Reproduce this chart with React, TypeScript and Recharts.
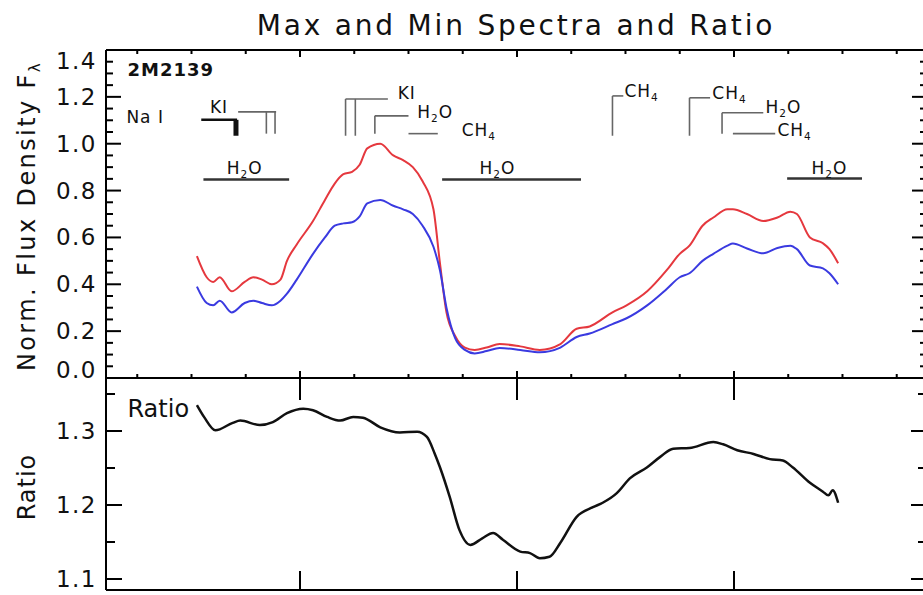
import { LineChart, Line, XAxis, YAxis, ReferenceLine, ReferenceDot } from "recharts"

// wavelength grid (micron) shared by the two spectra
const wavelength = [
  1.105, 1.114, 1.12, 1.126, 1.137, 1.149, 1.157, 1.165, 1.174, 1.182, 1.188, 1.197, 1.212, 1.223,
  1.232, 1.24, 1.248, 1.255, 1.262, 1.274, 1.286, 1.295, 1.304, 1.313, 1.323, 1.329, 1.335, 1.343,
  1.352, 1.361, 1.372, 1.384, 1.403, 1.421, 1.44, 1.455, 1.467, 1.488, 1.501, 1.52, 1.538, 1.55,
  1.559, 1.571, 1.581, 1.594, 1.599, 1.612, 1.627, 1.64, 1.652, 1.658, 1.67, 1.682, 1.688, 1.696,
]
const maxFlux = [
  0.52, 0.43, 0.41, 0.43, 0.37, 0.41, 0.43, 0.42, 0.4, 0.42, 0.5, 0.57, 0.67, 0.76,
  0.83, 0.87, 0.88, 0.91, 0.98, 1.0, 0.95, 0.93, 0.9, 0.84, 0.72, 0.49, 0.28, 0.18,
  0.13, 0.12, 0.13, 0.145, 0.135, 0.12, 0.145, 0.21, 0.22, 0.28, 0.31, 0.37, 0.46, 0.53,
  0.565, 0.65, 0.685, 0.72, 0.72, 0.7, 0.67, 0.685, 0.71, 0.7, 0.6, 0.575, 0.55, 0.49,
]
const minFlux = [
  0.39, 0.32, 0.31, 0.33, 0.28, 0.32, 0.33, 0.32, 0.31, 0.33, 0.36, 0.42, 0.53, 0.6,
  0.65, 0.66, 0.665, 0.69, 0.745, 0.76, 0.735, 0.72, 0.7, 0.65, 0.56, 0.46, 0.3, 0.17,
  0.12, 0.105, 0.115, 0.128, 0.12, 0.11, 0.13, 0.175, 0.19, 0.23, 0.255, 0.31, 0.38, 0.43,
  0.447, 0.5, 0.53, 0.565, 0.574, 0.553, 0.532, 0.555, 0.565, 0.55, 0.48, 0.468, 0.447, 0.4,
]

const ratioWavelength = [
  1.105, 1.112, 1.122, 1.138, 1.145, 1.163, 1.175, 1.188, 1.203, 1.212, 1.225, 1.237, 1.249,
  1.258, 1.274, 1.292, 1.308, 1.317, 1.324, 1.329, 1.338, 1.347, 1.357, 1.368, 1.378, 1.387,
  1.403, 1.412, 1.421, 1.43, 1.44, 1.455, 1.47, 1.479, 1.492, 1.504, 1.52, 1.532, 1.544,
  1.559, 1.581, 1.59, 1.603, 1.618, 1.633, 1.645, 1.654, 1.67, 1.682, 1.687, 1.691, 1.696,
]
const ratio = [
  1.335, 1.318, 1.301, 1.311, 1.314, 1.308, 1.312, 1.324, 1.33, 1.328, 1.319, 1.314, 1.319,
  1.318, 1.305, 1.298, 1.299, 1.292, 1.27, 1.251, 1.211, 1.166, 1.146, 1.155, 1.162, 1.153,
  1.137, 1.135, 1.128, 1.13, 1.149, 1.184, 1.197, 1.203, 1.216, 1.236, 1.251, 1.265, 1.276,
  1.277, 1.285, 1.282, 1.274, 1.269, 1.262, 1.26, 1.251, 1.23, 1.218, 1.213, 1.22, 1.203,
]

const xTicks = [1.05, 1.1, 1.15, 1.2, 1.25, 1.3, 1.35, 1.4, 1.45, 1.5, 1.55, 1.6, 1.65, 1.7, 1.75]
const xMajor = [1.2, 1.4, 1.6]
const fluxTicks = [
  0, 0.05, 0.1, 0.15, 0.2, 0.25, 0.3, 0.35, 0.4, 0.45, 0.5, 0.55, 0.6, 0.65, 0.7,
  0.75, 0.8, 0.85, 0.9, 0.95, 1.0, 1.05, 1.1, 1.15, 1.2, 1.25, 1.3, 1.35, 1.4,
]
const fluxMajor = [0, 0.2, 0.4, 0.6, 0.8, 1.0, 1.2, 1.4]
const ratioTicks = [1.1, 1.15, 1.2, 1.25, 1.3, 1.35]
const ratioMajor = [1.1, 1.2, 1.3]

// feature markers, [x1, y1, x2, y2] in data units
const kLines = [[1.109, 1.102, 1.142, 1.102]]
const kThick = [[1.141, 1.102, 1.141, 1.034]]
const featureLines = [
  [1.143, 1.136, 1.178, 1.136],
  [1.169, 1.136, 1.169, 1.043],
  [1.177, 1.136, 1.177, 1.043],
  [1.242, 1.191, 1.281, 1.191],
  [1.242, 1.191, 1.242, 1.034],
  [1.251, 1.191, 1.251, 1.034],
  [1.269, 1.119, 1.3, 1.119],
  [1.269, 1.119, 1.269, 1.043],
  [1.3, 1.043, 1.327, 1.043],
  [1.488, 1.204, 1.498, 1.204],
  [1.488, 1.204, 1.488, 1.034],
  [1.559, 1.196, 1.578, 1.196],
  [1.559, 1.196, 1.559, 1.034],
  [1.589, 1.132, 1.627, 1.132],
  [1.589, 1.132, 1.589, 1.043],
  [1.599, 1.043, 1.638, 1.043],
]
const bandLines = [
  [1.111, 0.847, 1.19, 0.847],
  [1.331, 0.847, 1.459, 0.847],
  [1.649, 0.851, 1.718, 0.851],
]
const featureLabels = [
  { x: 1.04, y: 1.089, text: "Na I" },
  { x: 1.117, y: 1.131, text: "KI" },
  { x: 1.29, y: 1.191, text: "KI" },
  { x: 1.308, y: 1.111, text: "H_2O" },
  { x: 1.349, y: 1.034, text: "CH_4" },
  { x: 1.499, y: 1.2, text: "CH_4" },
  { x: 1.58, y: 1.191, text: "CH_4" },
  { x: 1.629, y: 1.132, text: "H_2O" },
  { x: 1.64, y: 1.034, text: "CH_4" },
]
const bandLabels = [
  { x: 1.149, y: 0.872, text: "H_2O" },
  { x: 1.382, y: 0.872, text: "H_2O" },
  { x: 1.688, y: 0.872, text: "H_2O" },
]
const objectName = { x: 1.041, y: 1.289, text: "2M2139" }
const ratioName = { x: 1.041, y: 1.319, text: "Ratio" }

const spectra = wavelength.map((w, i) => ({ w, max: maxFlux[i], min: minFlux[i] }))
const ratioRows = ratioWavelength.map((w, i) => ({ w, ratio: ratio[i] }))

const FONT = "'DejaVu Sans', sans-serif"
const X_DOMAIN = [1.0212, 1.7779]
const FLUX_DOMAIN = [0, 1.4]
const RATIO_DOMAIN = [1.0851, 1.3716]
const frame = { stroke: "#000", strokeWidth: 2 }

const near = (list: number[], v: number) => list.some((m) => Math.abs(m - v) < 1e-6)

// inward IDL style tick marks; labels only on the left majors, kept inside the frame
function makeTick(side: string, majors: number[], majorLen: number, minorLen: number, digits?: number, ends?: number[]) {
  return (props: any) => {
    const { x, y, payload } = props
    const v = payload.value
    const major = near(majors, v)
    const len = major ? majorLen : minorLen
    let x2 = x
    let y2 = y
    if (side === "bottom") y2 = y - len
    if (side === "top") y2 = y + len
    if (side === "left") x2 = x + len
    if (side === "right") x2 = x - len
    let shift = 0
    if (ends && Math.abs(v - ends[1]) < 1e-6) shift = 11
    if (ends && Math.abs(v - ends[0]) < 1e-6) shift = -8
    return (
      <g>
        {len > 0 && <line x1={x} y1={y} x2={x2} y2={y2} stroke="#000" strokeWidth={2} />}
        {digits !== undefined && major && (
          <text x={x - 9} y={y + 8 + shift} textAnchor="end" fontSize={23} letterSpacing={1.5} fontFamily={FONT} fill="#111">
            {v.toFixed(digits)}
          </text>
        )}
      </g>
    )
  }
}

function RichText({ x, y, text, size, anchor = "start", weight = "normal", spacing = 1 }: any) {
  const parts = text.split(/(_.)/).filter(Boolean)
  const shift = size * 0.25
  let lowered = false
  return (
    <text x={x} y={y} fontSize={size} textAnchor={anchor} fontWeight={weight} fontFamily={FONT} fill="#111" letterSpacing={spacing}>
      {parts.map((p: string, i: number) => {
        if (p.startsWith("_")) {
          lowered = true
          return (
            <tspan key={i} fontSize={size * 0.62} dy={shift}>
              {p.slice(1)}
            </tspan>
          )
        }
        const dy = lowered ? -shift : 0
        lowered = false
        return (
          <tspan key={i} dy={dy}>
            {p}
          </tspan>
        )
      })}
    </text>
  )
}

const labelShape = (text: string, size: number, anchor = "start", weight = "normal", spacing = 1) => (p: any) =>
  <RichText x={p.cx} y={p.cy} text={text} size={size} anchor={anchor} weight={weight} spacing={spacing} />

export default function App() {
  return (
    <div style={{ position: "fixed", left: 0, top: 0, width: 923, height: 595, overflow: "hidden", background: "#fff" }}>
      <div style={{ position: "absolute", left: 0, top: 0 }}>
        <LineChart width={960} height={392} data={spectra} margin={{ top: 48, right: 31, bottom: 12, left: 104 }}>
          <XAxis xAxisId="b" dataKey="w" type="number" domain={X_DOMAIN} allowDataOverflow ticks={xTicks} interval={0}
            height={2} tickSize={0} tickMargin={0} tickLine={false} axisLine={frame} tick={makeTick("bottom", xMajor, 7, 4)} />
          <XAxis xAxisId="t" dataKey="w" orientation="top" type="number" domain={X_DOMAIN} allowDataOverflow ticks={xTicks} interval={0}
            height={2} tickSize={0} tickMargin={0} tickLine={false} axisLine={frame} tick={makeTick("top", xMajor, 7, 4)} />
          <YAxis yAxisId="l" type="number" domain={FLUX_DOMAIN} allowDataOverflow ticks={fluxTicks} interval={0}
            width={2} tickSize={0} tickMargin={0} tickLine={false} axisLine={frame}
            tick={makeTick("left", fluxMajor, 15, 7, 1, FLUX_DOMAIN)} />
          <YAxis yAxisId="r" dataKey="max" orientation="right" type="number" domain={FLUX_DOMAIN} allowDataOverflow ticks={fluxTicks} interval={0}
            width={2} tickSize={0} tickMargin={0} tickLine={false} axisLine={frame} tick={makeTick("right", fluxMajor, 15, 7)} />

          {bandLines.map((s, i) => (
            <ReferenceLine key={`band${i}`} xAxisId="b" yAxisId="l" segment={[{ x: s[0], y: s[1] }, { x: s[2], y: s[3] }]}
              stroke="#333" strokeWidth={2.5} />
          ))}
          {featureLines.map((s, i) => (
            <ReferenceLine key={`feat${i}`} xAxisId="b" yAxisId="l" segment={[{ x: s[0], y: s[1] }, { x: s[2], y: s[3] }]}
              stroke="#666" strokeWidth={1.6} />
          ))}
          {kLines.map((s, i) => (
            <ReferenceLine key={`k${i}`} xAxisId="b" yAxisId="l" segment={[{ x: s[0], y: s[1] }, { x: s[2], y: s[3] }]}
              stroke="#111" strokeWidth={2.5} />
          ))}
          {kThick.map((s, i) => (
            <ReferenceLine key={`kt${i}`} xAxisId="b" yAxisId="l" segment={[{ x: s[0], y: s[1] }, { x: s[2], y: s[3] }]}
              stroke="#111" strokeWidth={5} />
          ))}
          {featureLabels.map((l, i) => (
            <ReferenceDot key={`fl${i}`} xAxisId="b" yAxisId="l" x={l.x} y={l.y} r={0} shape={labelShape(l.text, 17)} />
          ))}
          {bandLabels.map((l, i) => (
            <ReferenceDot key={`bl${i}`} xAxisId="b" yAxisId="l" x={l.x} y={l.y} r={0} shape={labelShape(l.text, 17, "middle")} />
          ))}
          <ReferenceDot xAxisId="b" yAxisId="l" x={objectName.x} y={objectName.y} r={0}
            shape={labelShape(objectName.text, 18, "start", "bold")} />

          <Line xAxisId="b" yAxisId="l" type="monotone" dataKey="max" stroke="#e5383e" strokeWidth={2} dot={false} isAnimationActive={false} />
          <Line xAxisId="b" yAxisId="l" type="monotone" dataKey="min" stroke="#3a3ae0" strokeWidth={2} dot={false} isAnimationActive={false} />
        </LineChart>
      </div>

      <div style={{ position: "absolute", left: 0, top: 370 }}>
        <LineChart width={960} height={225} data={ratioRows} margin={{ top: 6, right: 31, bottom: 3, left: 104 }}>
          <XAxis xAxisId="b" dataKey="w" type="number" domain={X_DOMAIN} allowDataOverflow ticks={xMajor} interval={0}
            height={2} tickSize={0} tickMargin={0} tickLine={false} axisLine={frame} tick={makeTick("bottom", xMajor, 19, 0)} />
          <XAxis xAxisId="t" dataKey="w" orientation="top" type="number" domain={X_DOMAIN} allowDataOverflow ticks={xMajor} interval={0}
            height={2} tickSize={0} tickMargin={0} tickLine={false} axisLine={frame} tick={makeTick("top", xMajor, 22, 0)} />
          <YAxis yAxisId="l" type="number" domain={RATIO_DOMAIN} allowDataOverflow ticks={ratioTicks} interval={0}
            width={2} tickSize={0} tickMargin={0} tickLine={false} axisLine={frame} tick={makeTick("left", ratioMajor, 16, 9, 1)} />
          <YAxis yAxisId="r" dataKey="ratio" orientation="right" type="number" domain={RATIO_DOMAIN} allowDataOverflow ticks={ratioTicks} interval={0}
            width={2} tickSize={0} tickMargin={0} tickLine={false} axisLine={frame} tick={makeTick("right", ratioMajor, 16, 9)} />

          <ReferenceDot xAxisId="b" yAxisId="l" x={ratioName.x} y={ratioName.y} r={0} shape={labelShape(ratioName.text, 24, "start", "normal", 0)} />
          <Line xAxisId="b" yAxisId="l" type="monotone" dataKey="ratio" stroke="#111" strokeWidth={2.5} dot={false} isAnimationActive={false} />
        </LineChart>
      </div>

      <svg width={923} height={595} style={{ position: "absolute", left: 0, top: 0, pointerEvents: "none" }}>
        <text x={516} y={35} textAnchor="middle" fontSize={28} letterSpacing={2.8} fontFamily={FONT} fill="#111">
          Max and Min Spectra and Ratio
        </text>
        <text transform="translate(35,216) rotate(-90)" textAnchor="middle" fontSize={24} letterSpacing={2.4} fontFamily={FONT} fill="#111">
          Norm. Flux Density F<tspan fontSize={15} dy={5}>λ</tspan>
        </text>
        <text transform="translate(35,487) rotate(-90)" textAnchor="middle" fontSize={24} letterSpacing={1} fontFamily={FONT} fill="#111">
          Ratio
        </text>
      </svg>
    </div>
  )
}
